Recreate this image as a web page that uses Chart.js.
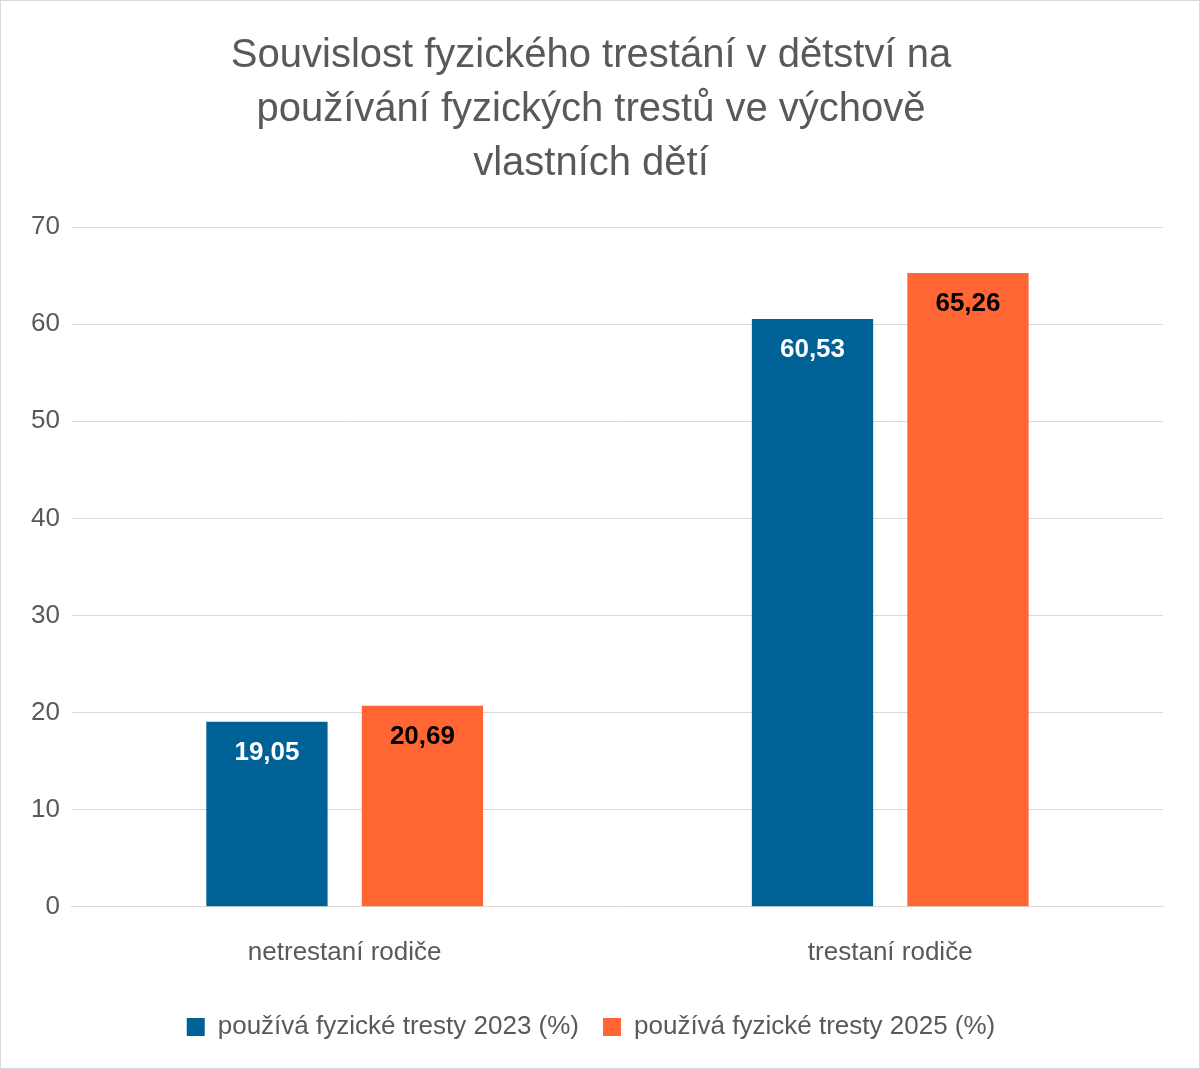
<!DOCTYPE html>
<html><head><meta charset="utf-8">
<script src="https://cdn.jsdelivr.net/npm/chart.js@4"></script>
<style>html,body{margin:0;padding:0;background:#fff}#w{width:1198px;height:1067px;border:1px solid #d9d9d9;position:relative}</style>
</head><body><div id="w"><canvas id="c"></canvas></div>
<script>
const categories = ["netrestaní rodiče", "trestaní rodiče"];
const series2023 = [19.05, 60.53];
const series2025 = [20.69, 65.26];
const seriesNames = ["používá fyzické tresty 2023 (%)", "používá fyzické tresty 2025 (%)"];
const titleLines = ["Souvislost fyzického trestání v dětství na", "používání fyzických trestů ve výchově", "vlastních dětí"];

const labelPlugin = {
  id: 'vals',
  afterDatasetsDraw(chart) {
    const ctx = chart.ctx;
    ctx.save();
    ctx.font = 'bold 26px "Liberation Sans", Arial, sans-serif';
    ctx.textAlign = 'center';
    ctx.textBaseline = 'top';
    chart.data.datasets.forEach((ds, i) => {
      chart.getDatasetMeta(i).data.forEach((bar, j) => {
        ctx.fillStyle = i === 0 ? '#ffffff' : '#000000';
        ctx.fillText(ds.data[j].toFixed(2).replace('.', ','), bar.x, bar.y + 18);
      });
    });
    ctx.restore();
  }
};

new Chart(document.getElementById('c'), {
  type: 'bar',
  data: {
    labels: categories,
    datasets: [
      { label: seriesNames[0], data: series2023, backgroundColor: '#006196' },
      { label: seriesNames[1], data: series2025, backgroundColor: '#ff6633' }
    ]
  },
  options: {
    responsive: true, maintainAspectRatio: false, animation: false,
    categoryPercentage: 0.57, barPercentage: 0.78,
    layout: { padding: { left: 18, right: 36, top: 10, bottom: 18 } },
    plugins: {
      title: { display: true, text: titleLines, color: '#595959',
        font: { size: 40, weight: 'normal', family: '"Liberation Sans", Arial, sans-serif', lineHeight: 1.35 },
        padding: { top: 18, bottom: 36 } },
      legend: { position: 'bottom',
        labels: { color: '#595959', boxWidth: 18, boxHeight: 18, padding: 24,
          font: { size: 26, family: '"Liberation Sans", Arial, sans-serif' } } },
      tooltip: { enabled: false }
    },
    scales: {
      y: { min: 0, max: 70, ticks: { stepSize: 10, color: '#595959', padding: 12,
          font: { size: 26, family: '"Liberation Sans", Arial, sans-serif' } },
        grid: { color: '#d9d9d9', drawTicks: false }, border: { display: false } },
      x: { ticks: { color: '#595959', padding: 22,
          font: { size: 26, family: '"Liberation Sans", Arial, sans-serif' } },
        grid: { display: false }, border: { color: '#d9d9d9' } }
    }
  },
  plugins: [labelPlugin]
});
</script></body></html>
